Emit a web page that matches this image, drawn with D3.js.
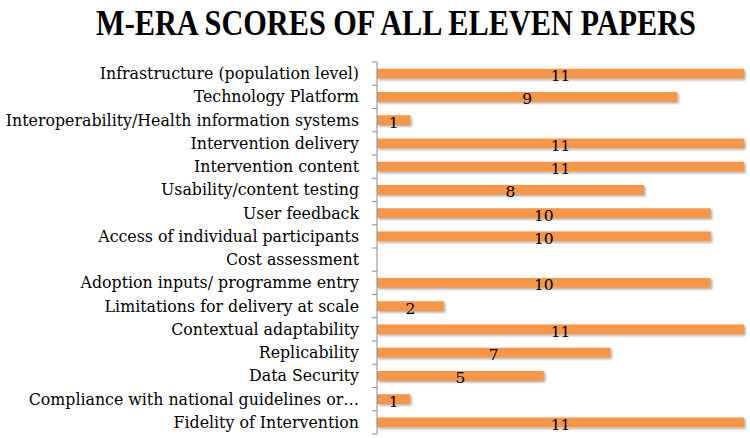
<!DOCTYPE html>
<html><head><meta charset="utf-8">
<script src="https://cdn.jsdelivr.net/npm/d3@7"></script>
<style>body{margin:0;background:#fff}</style>
</head><body>
<svg id="c" width="750" height="438"></svg>
<script>
const categories = [
  "Infrastructure (population level)",
  "Technology Platform",
  "Interoperability/Health information systems",
  "Intervention delivery",
  "Intervention content",
  "Usability/content testing",
  "User feedback",
  "Access of individual participants",
  "Cost assessment",
  "Adoption inputs/ programme entry",
  "Limitations for delivery at scale",
  "Contextual adaptability",
  "Replicability",
  "Data Security",
  "Compliance with national guidelines or…",
  "Fidelity of Intervention"
];
const scores = [11, 9, 1, 11, 11, 8, 10, 10, null, 10, 2, 11, 7, 5, 1, 11];
const title = "M-ERA SCORES OF ALL ELEVEN PAPERS";

const svg = d3.select("#c");
const defs = svg.append("defs");
const f = defs.append("filter").attr("id","sh").attr("x","-5%").attr("y","-50%").attr("width","110%").attr("height","200%");
f.append("feDropShadow").attr("dx",1.5).attr("dy",1.5).attr("stdDeviation",1).attr("flood-color","#000").attr("flood-opacity",0.35);

const x0 = 377, x1 = 744, yTop = 62, yBot = 434;
const x = d3.scaleLinear().domain([0, 11]).range([x0, x1]);
const y = d3.scaleBand().domain(categories).range([yTop, yBot]).paddingInner(0.58).paddingOuter(0.29);

// title: compress horizontally to the reference width
const tg = svg.append("g");
const tt = tg.append("text").attr("x", 0).attr("y", 0).attr("text-anchor","middle")
  .attr("font-family","Liberation Serif").attr("font-weight","bold").attr("font-size",35)
  .text(title);
const natW = tt.node().getComputedTextLength();
const sx = Math.min(1, 600 / natW);
tg.attr("transform", `translate(396,35) scale(${sx},1)`);

const data = categories.map((c,i)=>({c, v: scores[i]}));

svg.append("g").selectAll("rect").data(data.filter(d=>d.v!=null)).join("rect")
  .attr("x", x(0)).attr("y", d=>y(d.c)).attr("width", d=>x(d.v)-x(0)).attr("height", y.bandwidth())
  .attr("fill","#F79646").attr("filter","url(#sh)");

// axis
const bandStep = (yBot - yTop)/categories.length;
const ax = svg.append("g");
ax.append("line").attr("x1",x0).attr("x2",x0).attr("y1",yTop).attr("y2",yBot).attr("stroke","#8c8c8c").attr("stroke-width",1);
const bounds = d3.range(categories.length+1).map(i=>yTop + i*bandStep);
ax.selectAll("line.t").data(bounds).join("line").attr("class","t")
  .attr("x1",x0-5).attr("x2",x0).attr("y1",d=>d).attr("y2",d=>d).attr("stroke","#8c8c8c");

svg.append("g").selectAll("text").data(categories).join("text")
  .attr("x", 359).attr("y", d=>y(d)+y.bandwidth()/2).attr("dy","0.35em")
  .attr("text-anchor","end").attr("font-family","DejaVu Serif").attr("font-size",15.8).attr("fill","#000")
  .text(d=>d);

svg.append("g").selectAll("text").data(data.filter(d=>d.v!=null)).join("text")
  .attr("x", d=>(x(0)+x(d.v))/2).attr("y", d=>y(d.c)+y.bandwidth()/2+2).attr("dy","0.35em")
  .attr("text-anchor","middle").attr("font-family","DejaVu Serif").attr("font-size",15.5).attr("fill","#000")
  .text(d=>d.v);
</script>
</body></html>
